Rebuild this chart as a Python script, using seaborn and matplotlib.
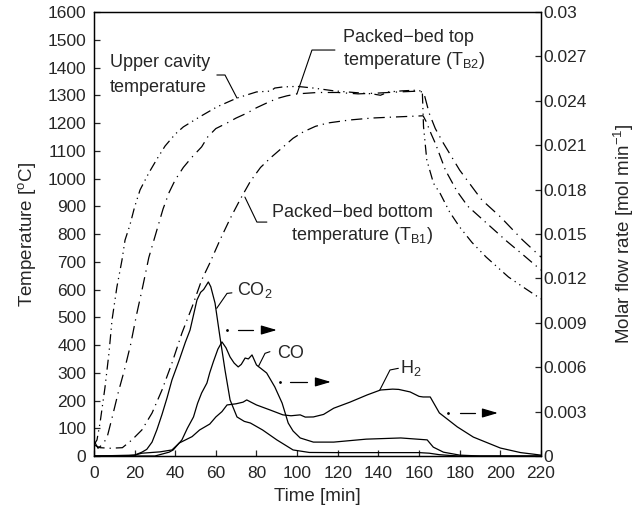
import matplotlib
matplotlib.use("Agg")
import matplotlib.pyplot as plt
import pandas as pd
import seaborn as sns

# ---------------- data ----------------
# temperatures [deg C]
t_upper = [0, 1.5, 3, 5.4, 7.4, 8.9, 11.3, 13.8, 15.3, 17.7, 20, 22.7, 27, 31, 35, 40, 44, 52,
           60.5, 70.4, 80, 87, 89, 93, 100, 108, 118, 128, 137, 141, 145, 152, 158, 161.6,
           162.2, 163.8, 167.1, 170.4, 175, 180, 186, 193, 204, 212, 220]
T_upper = [40, 58, 119, 245, 371, 490, 609, 706, 778, 832, 897, 959, 1020, 1070, 1117, 1160, 1186, 1222,
           1258, 1290, 1312, 1315, 1326, 1330, 1332, 1326, 1316, 1310, 1305, 1300, 1312, 1316, 1318, 1315,
           1187, 1067, 983, 946, 880, 825, 770, 717, 645, 605, 566]

t_top = [0, 2, 4, 6.4, 9, 12, 15, 18, 21, 24, 27, 30, 34, 37, 40, 44, 48, 53, 56, 60, 65.5, 70,
         75.4, 80, 85, 90, 95, 100, 110, 120, 130, 140, 150, 160, 162.3, 165, 168, 172, 180,
         188.5, 191, 200, 211, 220]
T_top = [55, 28, 40, 65, 140, 230, 310, 400, 510, 610, 715, 790, 890, 950, 995, 1040, 1075, 1114, 1150,
         1180, 1200, 1218, 1236, 1255, 1272, 1288, 1298, 1305, 1310, 1310, 1305, 1308, 1312, 1315, 1310,
         1235, 1180, 1127, 1030, 946, 922, 862, 778, 717]

t_bottom = [0, 3, 8, 14, 18.7, 23.6, 28.6, 33.5, 38.4, 43.3, 48.3, 53, 57, 62, 67, 72, 77, 82, 87,
            93, 98, 103, 109, 115, 126, 137, 149, 162, 163.5, 166, 168, 173, 178.6, 184, 191.6,
            203, 212, 220]
T_bottom = [40, 30, 28, 30, 58, 94, 155, 238, 335, 443, 537, 634, 695, 778, 855, 925, 990, 1040, 1075,
            1113, 1145, 1168, 1188, 1200, 1211, 1218, 1222, 1226, 1205, 1160, 1127, 1030, 955, 900, 850,
            775, 720, 670]

# molar flow rates [mol/min]
t_co2 = [0, 15, 20, 23.6, 26, 28.6, 31, 33.5, 36, 38.4, 42, 45, 47.3, 50.7, 52.5, 54, 56.3, 57.5,
         59.6, 62, 64.5, 67, 70.4, 74, 77, 83, 90, 98, 106, 120, 140, 160, 165, 170, 175, 180, 220]
r_co2 = [0, 0, 0.00006, 0.00026, 0.00045, 0.00094, 0.00178, 0.00281, 0.00394, 0.00514, 0.00649,
         0.00769, 0.00851, 0.01054, 0.01106, 0.01125, 0.01176, 0.01144, 0.01033, 0.00806, 0.00581,
         0.00379, 0.00264, 0.00234, 0.00223, 0.00176, 0.00109, 0.00041, 0.00024, 0.00023, 0.00023,
         0.00023, 0.00019, 0.00009, 0.00004, 0, 0]

t_co = [0, 30, 37, 39, 43.3, 46, 49, 51, 53, 55.6, 57, 58.8, 61, 63, 65, 67, 69, 71, 72.5, 74.4, 76,
        77.8, 80, 85, 89, 92.6, 95.6, 98, 101.5, 108, 118, 134, 151, 164, 167, 172, 180, 190, 220]
r_co = [0, 0, 0.00026, 0.00041, 0.00109, 0.00188, 0.00264, 0.00356, 0.00426, 0.00493, 0.00563,
        0.00638, 0.00722, 0.00771, 0.00731, 0.00669, 0.00628, 0.00602, 0.00619, 0.00662, 0.00656,
        0.00683, 0.00615, 0.00561, 0.00467, 0.00358, 0.00223, 0.00169, 0.00122, 0.00094, 0.00094,
        0.00114, 0.00122, 0.00109, 0.0006, 0.00026, 0.00006, 0, 0]

t_h2 = [0, 20, 23.6, 32.5, 38.4, 42, 48.3, 52, 57, 60, 63, 65.5, 70, 73.4, 75.2, 77, 80, 86.7, 93,
        97, 101.5, 104, 108, 113, 118, 126, 134.5, 141, 147, 150, 155.6, 160, 162, 165.5, 170,
        178.8, 186.7, 200, 210, 216, 220]
r_h2 = [0, 0.00006, 0.00019, 0.00028, 0.00041, 0.00088, 0.00131, 0.00176, 0.00216, 0.00264, 0.003,
        0.00345, 0.00353, 0.00364, 0.00379, 0.00366, 0.00345, 0.00311, 0.00278, 0.00272, 0.00278,
        0.00263, 0.00264, 0.00281, 0.00323, 0.00364, 0.00413, 0.00446, 0.00452, 0.0045, 0.00433,
        0.00403, 0.00399, 0.00399, 0.00291, 0.00197, 0.00128, 0.00054, 0.00023, 0.00013, 0.00006]

x_ticks = [0, 20, 40, 60, 80, 100, 120, 140, 160, 180, 200, 220]
left_ticks = [0, 100, 200, 300, 400, 500, 600, 700, 800, 900, 1000, 1100, 1200, 1300, 1400, 1500, 1600]
right_ticks = [0, 0.003, 0.006, 0.009, 0.012, 0.015, 0.018, 0.021, 0.024, 0.027, 0.03]
right_tick_labels = ["0", "0.003", "0.006", "0.009", "0.012", "0.015", "0.018", "0.021",
                     "0.024", "0.027", "0.03"]

# ---------------- style ----------------
sns.set_style("ticks")
plt.rcParams['font.family'] = ['Liberation Sans', 'DejaVu Sans']
plt.rcParams['mathtext.fontset'] = 'custom'
plt.rcParams['mathtext.rm'] = 'Liberation Sans'
plt.rcParams['mathtext.it'] = 'Liberation Sans:italic'
plt.rcParams['mathtext.bf'] = 'Liberation Sans:bold'

fig = plt.figure(figsize=(6.39, 5.11), dpi=100)
ax = fig.add_axes([0.147, 0.1076, 0.6996, 0.8689])
ax2 = ax.twinx()
ax2.set_position([0.147, 0.1076, 0.6996, 0.8689])

dash_lw = 0.9
temps = [
    (t_upper, T_upper, (0, (8, 3.5, 1, 3.5, 1, 3.5))),
    (t_top, T_top, (0, (10, 4.5, 1, 4.5))),
    (t_bottom, T_bottom, (0, (9, 4, 1, 4))),
]
for tt, TT, ls in temps:
    df = pd.DataFrame({"t": tt, "T": TT})
    sns.lineplot(data=df, x="t", y="T", ax=ax, color="black", lw=dash_lw,
                 linestyle=ls, estimator=None, sort=False)

for tt, rr in [(t_co2, r_co2), (t_co, r_co), (t_h2, r_h2)]:
    df = pd.DataFrame({"t": tt, "r": rr})
    sns.lineplot(data=df, x="t", y="r", ax=ax2, color="black", lw=0.9,
                 estimator=None, sort=False)

ax.set_xlim(0, 220)
ax.set_ylim(0, 1600)
ax2.set_ylim(0, 0.03)
ax.set_xticks(x_ticks)
ax.set_yticks(left_ticks)
ax2.set_yticks(right_ticks)
ax2.set_yticklabels(right_tick_labels)

tick_fs = 12.5
ax.tick_params(axis='y', direction='in', length=4, width=0.9, labelsize=tick_fs, pad=5.5,
               left=True, right=False)
ax.tick_params(axis='x', direction='in', length=4, width=0.9, labelsize=tick_fs, pad=7,
               bottom=True, top=False)
ax2.tick_params(axis='y', direction='in', length=4, width=0.9, labelsize=tick_fs, pad=2,
                right=True, left=False)

for a in (ax, ax2):
    for s in a.spines.values():
        s.set_visible(True)
        s.set_linewidth(0.9)
        s.set_color('black')

label_fs = 13.5
ax.set_xlabel("Time [min]", fontsize=label_fs, labelpad=5)
ax.set_ylabel(r"Temperature [$^{\mathrm{o}}$C]", fontsize=label_fs, labelpad=7)
ax2.set_ylabel(r"Molar flow rate [mol min$^{-1}$]", fontsize=label_fs, labelpad=18)

# ---------------- annotations ----------------
txt_fs = 13
ax.text(7.9, 1402, "Upper cavity", fontsize=txt_fs, ha='left', va='baseline')
ax.text(7.9, 1312, "temperature", fontsize=txt_fs, ha='left', va='baseline')
ax.text(122.5, 1492, "Packed\u2212bed top", fontsize=txt_fs, ha='left', va='baseline')
ax.text(122.5, 1409, r"temperature (T$_{\mathrm{B2}}$)", fontsize=txt_fs, ha='left', va='baseline')
ax.text(166.8, 861, "Packed\u2212bed bottom", fontsize=txt_fs, ha='right', va='baseline')
ax.text(166.8, 778, r"temperature (T$_{\mathrm{B1}}$)", fontsize=txt_fs, ha='right', va='baseline')
ax.text(70.4, 580, r"CO$_2$", fontsize=txt_fs, ha='left', va='baseline')
ax.text(90.0, 353, "CO", fontsize=txt_fs, ha='left', va='baseline')
ax.text(150.6, 299, r"H$_2$", fontsize=txt_fs, ha='left', va='baseline')

leaders = [
    ([60.5, 64.5, 70.4], [1373, 1373, 1290]),
    ([99.9, 107.3, 118.6], [1305, 1463, 1463]),
    ([74.3, 80.2, 85.1], [933, 843, 843]),
    ([67.9, 65.5, 60.4], [588, 586, 532]),
    ([86.6, 84.2, 80.9], [376, 370, 322]),
    ([149.8, 145.7, 140.7], [316, 310, 238]),
]
for lx, ly in leaders:
    ax.plot(lx, ly, color='black', lw=0.8, solid_joinstyle='miter')

# dash-dot arrows pointing to the right axis: (dot, dash start, dash end, head start, head end, level)
arrows = [
    (65.3, 71.0, 78.4, 83.3, 90.0, 454),
    (91.5, 96.5, 104.8, 109.7, 116.6, 267),
    (174.2, 180.1, 187.5, 192.4, 198.8, 155),
]
for d, s0, s1, h0, h1, y in arrows:
    ax.plot([d], [y], marker='o', ms=1.0, color='black', ls='none')
    ax.plot([s0, s1], [y, y], color='black', lw=0.9)
    ax.annotate('', xy=(h1, y), xytext=(h0, y),
                arrowprops=dict(arrowstyle='-|>,head_length=0.95,head_width=0.28',
                                color='black', lw=0.9, shrinkA=0, shrinkB=0,
                                mutation_scale=10))

fig.savefig("out.png", dpi=100)
